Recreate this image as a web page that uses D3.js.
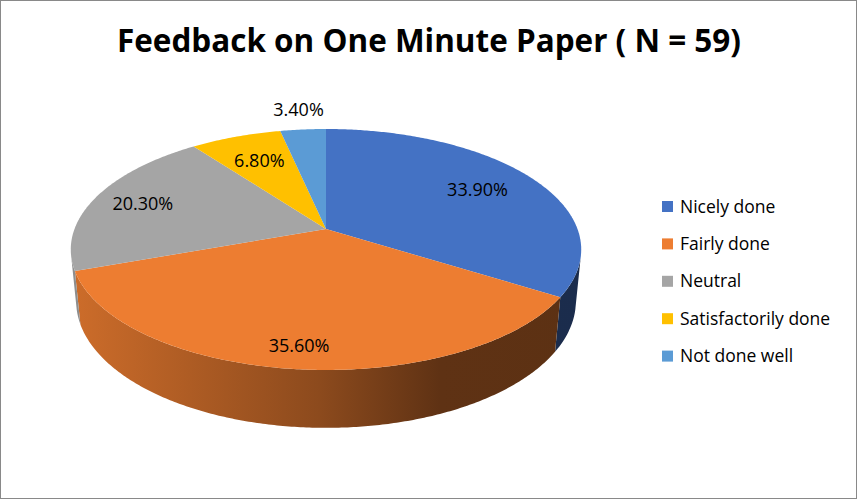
<!DOCTYPE html>
<html>
<head>
<meta charset="UTF-8">
<title>Feedback on One Minute Paper</title>
<script src="https://cdn.jsdelivr.net/npm/d3@7/dist/d3.min.js"></script>
<style type="text/css">
body { margin: 0; background: #fff; }
svg { display: block; }
.title { font: bold 33px "Open Sans", sans-serif; fill: #000; }
.lbl { font: 18px "Open Sans", sans-serif; fill: #000; text-anchor: middle; }
.legend text { font: 17.5px "Open Sans", sans-serif; fill: #000; }
</style>
</head>
<body>
<div class="chart"></div>
<script>
// data
var categories = ["Nicely done", "Fairly done", "Neutral", "Satisfactorily done", "Not done well"];
var values     = [33.9, 35.6, 20.3, 6.8, 3.4];
var colors     = ["#4472c4", "#ed7d31", "#a5a5a5", "#ffc000", "#5b9bd5"];

// label radius as share of pie radius (Excel moves the tiny one outside)
var labelRadius = [0.73, 0.86, 0.79, 0.71, 1.24];

var width = 857, height = 499;

var svg = d3.select(".chart").append("svg")
    .attr("width", width)
    .attr("height", height);

svg.append("rect")
    .attr("x", 0.5).attr("y", 0.5)
    .attr("width", width - 1).attr("height", height - 1)
    .attr("fill", "#fff")
    .attr("stroke", "#898989");

svg.append("text")
    .attr("class", "title")
    .attr("x", 429)
    .attr("y", 52)
    .attr("text-anchor", "middle")
    .attr("textLength", 624)
    .attr("lengthAdjust", "spacingAndGlyphs")
    .text("Feedback on One Minute Paper ( N = 59)");

// 3d projection of the tilted disk
var R = 251.5, D = 1309.5, H = 59, cx = 326, cy = 229;
var elev = Math.asin(0.4652);
function proj(theta, r, z) {
    var X = r * Math.sin(theta), Y = r * Math.cos(theta);
    var depth = D + Y * Math.cos(elev) - z * Math.sin(elev);
    var up = Y * Math.sin(elev) + z * Math.cos(elev);
    return [cx + D * X / depth, cy - D * up / depth];
}
function arcPts(a0, a1, r, z) {
    var n = Math.max(2, Math.ceil((a1 - a0) / 0.01)), pts = [];
    for (var i = 0; i <= n; i++) pts.push(proj(a0 + (a1 - a0) * i / n, r, z));
    return pts;
}

var color = d3.scaleOrdinal().domain(categories).range(colors);
var pie = d3.pie().sort(null).value(function (d, i) { return values[i]; });
var slices = pie(categories);
var line = d3.line();

// shaded side gradients
var defs = svg.append("defs");
var shade = [[75, 0.86], [320, 0.59], [440, 0.40], [582, 0.39]];
categories.forEach(function (c, i) {
    var g = defs.append("linearGradient")
        .attr("id", "side" + i)
        .attr("gradientUnits", "userSpaceOnUse")
        .attr("x1", 70).attr("x2", 582).attr("y1", 0).attr("y2", 0);
    var base = d3.rgb(color(c));
    shade.forEach(function (s) {
        g.append("stop")
            .attr("offset", (s[0] - 70) / 512)
            .attr("stop-color", d3.rgb(base.r * s[1], base.g * s[1], base.b * s[1]));
    });
});

// visible part of the outer wall
var wc = R / (D * Math.cos(elev));
var w0 = Math.acos(-wc), w1 = 2 * Math.PI - w0;

var sides = svg.append("g");
slices.forEach(function (d, i) {
    var a0 = Math.max(d.startAngle, w0), a1 = Math.min(d.endAngle, w1);
    if (a1 <= a0) return;
    var pts = arcPts(a0, a1, R, 0).concat(arcPts(a0, a1, R, -H).reverse());
    sides.append("path")
        .attr("d", line(pts) + "Z")
        .attr("fill", "url(#side" + i + ")");
});

var tops = svg.append("g");
tops.selectAll("path")
    .data(slices)
    .enter()
    .append("path")
    .attr("d", function (d) {
        return line([proj(0, 0, 0)].concat(arcPts(d.startAngle, d.endAngle, R, 0))) + "Z";
    })
    .attr("fill", function (d) { return color(d.data); });

svg.append("g").selectAll("text")
    .data(slices)
    .enter()
    .append("text")
    .attr("class", "lbl")
    .attr("transform", function (d, i) {
        var p = proj((d.startAngle + d.endAngle) / 2, R * labelRadius[i], 0);
        return "translate(" + p + ")";
    })
    .attr("dy", "0.35em")
    .text(function (d, i) { return values[i].toFixed(2) + "%"; });

var legend = svg.append("g")
    .attr("class", "legend")
    .selectAll("g")
    .data(categories)
    .enter()
    .append("g")
    .attr("transform", function (d, i) { return "translate(662," + (206.5 + i * 37.4) + ")"; });

legend.append("rect")
    .attr("x", 0).attr("y", -5.5)
    .attr("width", 11).attr("height", 11)
    .attr("fill", function (d) { return color(d); });

legend.append("text")
    .attr("x", 18)
    .attr("y", 6)
    .text(function (d) { return d; });
</script>
</body>
</html>
